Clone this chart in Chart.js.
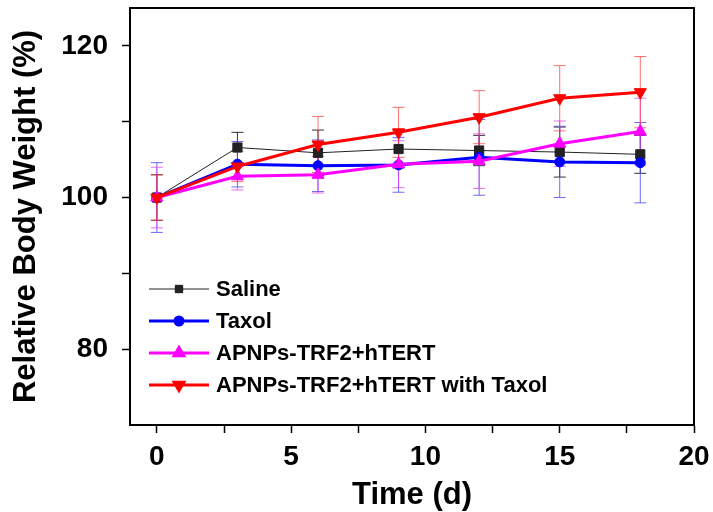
<!DOCTYPE html>
<html>
<head>
<meta charset="utf-8">
<script src="https://cdn.jsdelivr.net/npm/chart.js@4.4.1/dist/chart.umd.min.js"></script>
<style>
    html, body { margin: 0; padding: 0; background: #fff; }
    #wrap { width: 713px; height: 512px; }
</style>
</head>
<body>
<div id="wrap"><canvas id="myChart" width="713" height="512"></canvas></div>
<script>
// days of measurement
const days = [0, 3, 6, 9, 12, 15, 18];

// mean relative body weight (%) per group
const saline = [100, 106.6, 105.9, 106.4, 106.2, 106.0, 105.7];
const taxol = [100, 104.4, 104.2, 104.3, 105.3, 104.7, 104.6];
const apnps = [100, 102.8, 103.0, 104.4, 104.8, 107.1, 108.7];
const apnpsTaxol = [100, 104.1, 107.0, 108.6, 110.6, 113.1, 113.9];

// standard deviations
const salineErr = [3.0, 2.0, 3.0, 2.5, 2.0, 3.3, 2.5];
const taxolErr = [4.6, 3.0, 3.4, 3.6, 5.0, 4.7, 5.3];
const apnpsErr = [4.0, 1.8, 2.4, 3.1, 3.6, 3.0, 4.4];
const apnpsTaxolErr = [3.0, 2.0, 3.7, 3.3, 3.5, 4.3, 4.7];

const seriesNames = ['Saline', 'Taxol', 'APNPs-TRF2+hTERT', 'APNPs-TRF2+hTERT with Taxol'];

// axis ticks
const xTicks = [0, 2.5, 5, 7.5, 10, 12.5, 15, 17.5, 20];
const xLabels = [0, 5, 10, 15, 20];
const yTicks = [80, 90, 100, 110, 120];
const yLabels = [80, 100, 120];

const FONT = "'Liberation Sans', Arial, sans-serif";

const toPoints = (values) => values.map((v, i) => ({ x: days[i], y: v }));

const errorBars = {
    id: 'errorBars',
    beforeDatasetsDraw(chart)
    {
        const { ctx, scales: { x, y } } = chart;
        const cap = 6;
        ctx.save();
        ctx.lineWidth = 1;
        chart.data.datasets.forEach((ds) =>
        {
            ctx.strokeStyle = ds.errColor;
            ds.data.forEach((p, i) =>
            {
                const px = x.getPixelForValue(p.x);
                const top = y.getPixelForValue(p.y + ds.err[i]);
                const bot = y.getPixelForValue(p.y - ds.err[i]);
                ctx.beginPath();
                ctx.moveTo(px, top);
                ctx.lineTo(px, bot);
                ctx.moveTo(px - cap, top);
                ctx.lineTo(px + cap, top);
                ctx.moveTo(px - cap, bot);
                ctx.lineTo(px + cap, bot);
                ctx.stroke();
            });
        });
        ctx.restore();
    }
};

const frameAndLegend = {
    id: 'frameAndLegend',
    afterDraw(chart)
    {
        const { ctx, chartArea } = chart;
        ctx.save();
        // top and right frame
        ctx.strokeStyle = '#000';
        ctx.lineWidth = 2;
        ctx.beginPath();
        ctx.moveTo(chartArea.left, chartArea.top);
        ctx.lineTo(chartArea.right, chartArea.top);
        ctx.lineTo(chartArea.right, chartArea.bottom);
        ctx.stroke();

        // legend inside the plot
        const x0 = chartArea.left + 19;
        let yRow = chartArea.top + 281;
        ctx.font = "bold 22px " + FONT;
        ctx.textBaseline = 'middle';
        ctx.textAlign = 'left';
        chart.data.datasets.forEach((ds) =>
        {
            ctx.strokeStyle = ds.borderColor;
            ctx.lineWidth = ds.borderWidth;
            ctx.beginPath();
            ctx.moveTo(x0, yRow);
            ctx.lineTo(x0 + 60, yRow);
            ctx.stroke();
            Chart.helpers.drawPoint(ctx, {
                pointStyle: ds.pointStyle,
                rotation: ds.pointRotation || 0,
                radius: ds.pointRadius * 0.8,
                borderWidth: 1
            }, x0 + 30, yRow);
            ctx.fillStyle = ds.pointBackgroundColor;
            ctx.strokeStyle = ds.pointBorderColor;
            ctx.fill();
            ctx.fillStyle = '#000';
            ctx.fillText(ds.label, x0 + 67, yRow + 1);
            yRow += 32;
        });
        ctx.restore();
    }
};

const makeSet = (i, values, err, color, errColor, width, style, radius, rotation) => ({
    label: seriesNames[i],
    data: toPoints(values),
    err: err,
    errColor: errColor,
    borderColor: color,
    backgroundColor: color,
    borderWidth: width,
    pointStyle: style,
    pointRadius: radius,
    pointRotation: rotation,
    pointBackgroundColor: color,
    pointBorderColor: color,
    pointBorderWidth: 1,
    tension: 0,
    order: 3 - i
});

const chartContext = document.getElementById('myChart').getContext('2d');

new Chart(chartContext, {
    type: 'line',
    data: {
        datasets: [
            makeSet(0, saline, salineErr, '#222222', 'rgba(0,0,0,0.8)', 1, 'rect', 6.5, 0),
            makeSet(1, taxol, taxolErr, '#0000ff', 'rgba(60,60,255,0.75)', 3, 'circle', 5, 0),
            makeSet(2, apnps, apnpsErr, '#ff00ff', 'rgba(230,60,230,0.75)', 3, 'triangle', 7, 0),
            makeSet(3, apnpsTaxol, apnpsTaxolErr, '#ff0000', 'rgba(255,50,50,0.7)', 3, 'triangle', 7, 180)
        ]
    },
    options: {
        responsive: false,
        animation: false,
        layout: {
            padding: { top: 8, right: 19, bottom: 0, left: 0 }
        },
        plugins: {
            legend: { display: false },
            tooltip: { enabled: false }
        },
        scales: {
            x: {
                type: 'linear',
                min: -1,
                max: 20,
                afterBuildTicks: (scale) =>
                {
                    scale.ticks = xTicks.map(v => ({ value: v }));
                },
                afterFit: (scale) =>
                {
                    scale.height = 87;
                    scale.paddingLeft = 0;
                    scale.paddingRight = 0;
                },
                grid: {
                    drawOnChartArea: false,
                    tickLength: 8,
                    tickColor: '#000',
                    tickWidth: 1.5
                },
                border: { color: '#000', width: 2 },
                ticks: {
                    autoSkip: false,
                    maxRotation: 0,
                    padding: 7,
                    color: '#000',
                    font: { family: FONT, size: 28, weight: 'bold' },
                    callback: (v) => xLabels.includes(v) ? String(v) : ''
                },
                title: {
                    display: true,
                    text: 'Time (d)',
                    color: '#000',
                    padding: { top: 0, bottom: -2 },
                    font: { family: FONT, size: 31, weight: 'bold' }
                }
            },
            y: {
                type: 'linear',
                min: 70,
                max: 125,
                afterBuildTicks: (scale) =>
                {
                    scale.ticks = yTicks.map(v => ({ value: v }));
                },
                afterFit: (scale) =>
                {
                    scale.width = 130;
                    scale.paddingTop = 0;
                    scale.paddingBottom = 0;
                },
                grid: {
                    drawOnChartArea: false,
                    tickLength: 8,
                    tickColor: '#000',
                    tickWidth: 1.5
                },
                border: { color: '#000', width: 2 },
                ticks: {
                    autoSkip: false,
                    padding: 14,
                    color: '#000',
                    font: { family: FONT, size: 28, weight: 'bold' },
                    callback: (v) => yLabels.includes(v) ? String(v) : ''
                },
                title: {
                    display: true,
                    text: 'Relative Body Weight (%)',
                    color: '#000',
                    padding: { top: 8, bottom: 0 },
                    font: { family: FONT, size: 31, weight: 'bold' }
                }
            }
        }
    },
    plugins: [errorBars, frameAndLegend]
});
</script>
</body>
</html>
